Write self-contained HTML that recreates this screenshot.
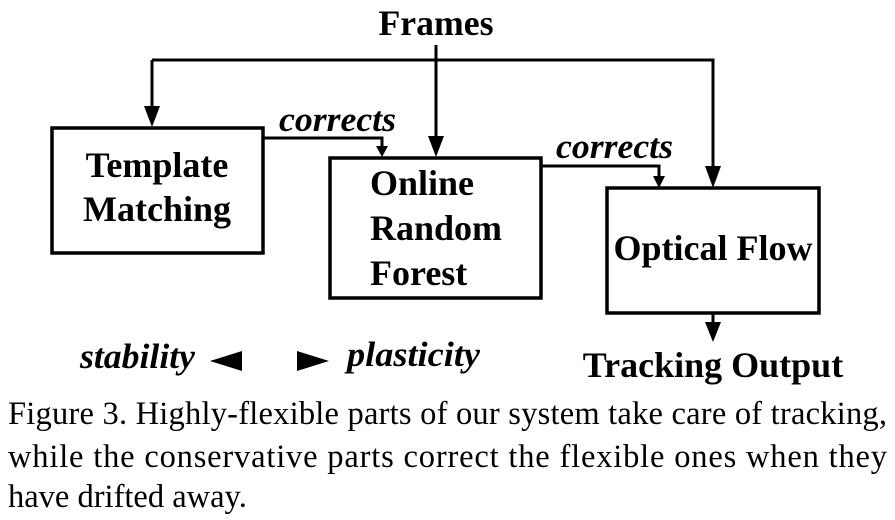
<!DOCTYPE html>
<html><head><style>
body{margin:0;width:895px;height:520px;background:#fff;overflow:hidden;font-family:"Liberation Serif",serif}
svg{position:absolute;left:0;top:0}
</style></head><body>
<svg width="895" height="520" viewBox="0 0 895 520" font-family="Liberation Serif, serif">
<g fill="none" stroke="#000" stroke-width="3.5">
<rect x="52" y="128" width="211" height="125"/>
<rect x="330" y="158" width="211" height="140"/>
<rect x="607" y="188" width="212" height="125"/>
</g>
<g fill="none" stroke="#000" stroke-width="3">
<path d="M436 45V140"/>
<path d="M152 60H713V172"/>
<path d="M152 60V112"/>
<path d="M263 138H382V150"/>
<path d="M541 166H659V180"/>
<path d="M713 313V330"/>
</g>
<g fill="#000">
<path d="M144 106L152 127L160 106Z"/>
<path d="M428 136L436 157L444 136Z"/>
<path d="M705 166L713 188L721 166Z"/>
<path d="M376 146L382 157L388 146Z"/>
<path d="M653 176L659 188L665 176Z"/>
<path d="M705 322L713 342L721 322Z"/>
<path d="M242 351L210 361L242 371Z"/>
<path d="M297 351L329 361L297 371Z"/>
</g>
<g font-size="36" font-weight="bold" text-anchor="middle">
<text x="436" y="35" textLength="115" lengthAdjust="spacingAndGlyphs">Frames</text>
<text x="157" y="177">Template</text>
<text x="157" y="221">Matching</text>
<text x="370" y="195" text-anchor="start">Online</text>
<text x="370" y="240" text-anchor="start">Random</text>
<text x="370" y="285" text-anchor="start">Forest</text>
<text x="713" y="260">Optical Flow</text>
<text x="713" y="377">Tracking Output</text>
</g>
<g font-size="35" font-style="italic" font-weight="bold">
<text x="279" y="131" textLength="117" lengthAdjust="spacingAndGlyphs">corrects</text>
<text x="556" y="158" textLength="117" lengthAdjust="spacingAndGlyphs">corrects</text>
<text x="80" y="368" textLength="115" lengthAdjust="spacingAndGlyphs">stability</text>
<text x="347" y="366" textLength="133" lengthAdjust="spacingAndGlyphs">plasticity</text>
</g>
<g font-size="32.5">
<text x="8" y="424" textLength="879" lengthAdjust="spacing">Figure 3. Highly-flexible parts of our system take care of tracking,</text>
<text x="8" y="467" textLength="879" lengthAdjust="spacing">while the conservative parts correct the flexible ones when they</text>
<text x="8" y="507">have drifted away.</text>
</g>
</svg>
</body></html>
